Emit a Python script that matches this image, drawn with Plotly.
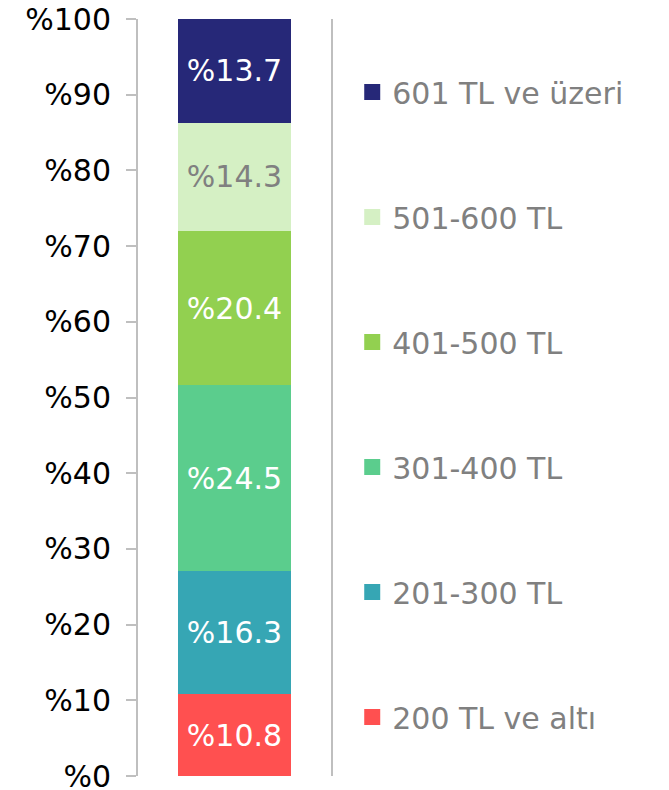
import plotly.graph_objects as go

categories = [""]
series_names = ["200 TL ve altı", "201-300 TL", "301-400 TL", "401-500 TL", "501-600 TL", "601 TL ve üzeri"]
series_values = [10.8, 16.3, 24.5, 20.4, 14.3, 13.7]
colors = ["#ff5050", "#36a6b4", "#5bcd8d", "#92d050", "#d5f0c4", "#262878"]
text_colors = ["white", "white", "white", "white", "#808080", "white"]
tick_vals = [0, 10, 20, 30, 40, 50, 60, 70, 80, 90, 100]
tick_text = ["%0", "%10", "%20", "%30", "%40", "%50", "%60", "%70", "%80", "%90", "%100"]

FONT = "DejaVu Sans"
fig = go.Figure()
for name, val, col, tcol in zip(series_names, series_values, colors, text_colors):
    fig.add_trace(go.Bar(
        x=categories, y=[val], name=name,
        marker=dict(color=col, line=dict(width=0)),
        texttemplate="%%{y:.1f}", textposition="inside", insidetextanchor="middle",
        textfont=dict(family=FONT, size=30, color=tcol),
        showlegend=False, hoverinfo="skip",
    ))
# legend entries (top to bottom: highest band first)
for name, col in reversed(list(zip(series_names, colors))):
    fig.add_trace(go.Scatter(
        x=[None], y=[None], mode="markers", name=name, legendgroup=name,
        marker=dict(symbol="square", size=16, color=col),
    ))

# page body has an 8px margin, so the figure is sized/offset accordingly
fig.update_layout(
    width=661, height=782,
    margin=dict(l=130, r=338, t=11, b=14, autoexpand=False),
    barmode="stack", bargap=0.415,
    plot_bgcolor="white", paper_bgcolor="white",
    font=dict(family=FONT, size=30, color="black"),
    legend=dict(
        x=1.11, xanchor="left", y=0.938, yanchor="top",
        traceorder="grouped", tracegroupgap=83,
        font=dict(family=FONT, size=30, color="#808080"),
        itemwidth=30, bgcolor="rgba(0,0,0,0)",
    ),
    xaxis=dict(showline=False, showticklabels=False, ticks="", showgrid=False, zeroline=False,
               range=[-0.5, 0.5], automargin=False),
    yaxis=dict(
        range=[0, 100], tickvals=tick_vals, ticktext=tick_text,
        showline=True, linecolor="#bfbfbf", linewidth=2, mirror=True,
        ticks="outside", ticklen=10, tickcolor="#bfbfbf", tickwidth=2,
        ticklabelstandoff=9, ticklabeloverflow="allow", automargin=False,
        showgrid=False, zeroline=False,
        tickfont=dict(family=FONT, size=30, color="black"),
    ),
)

fig.write_html("out.html")
